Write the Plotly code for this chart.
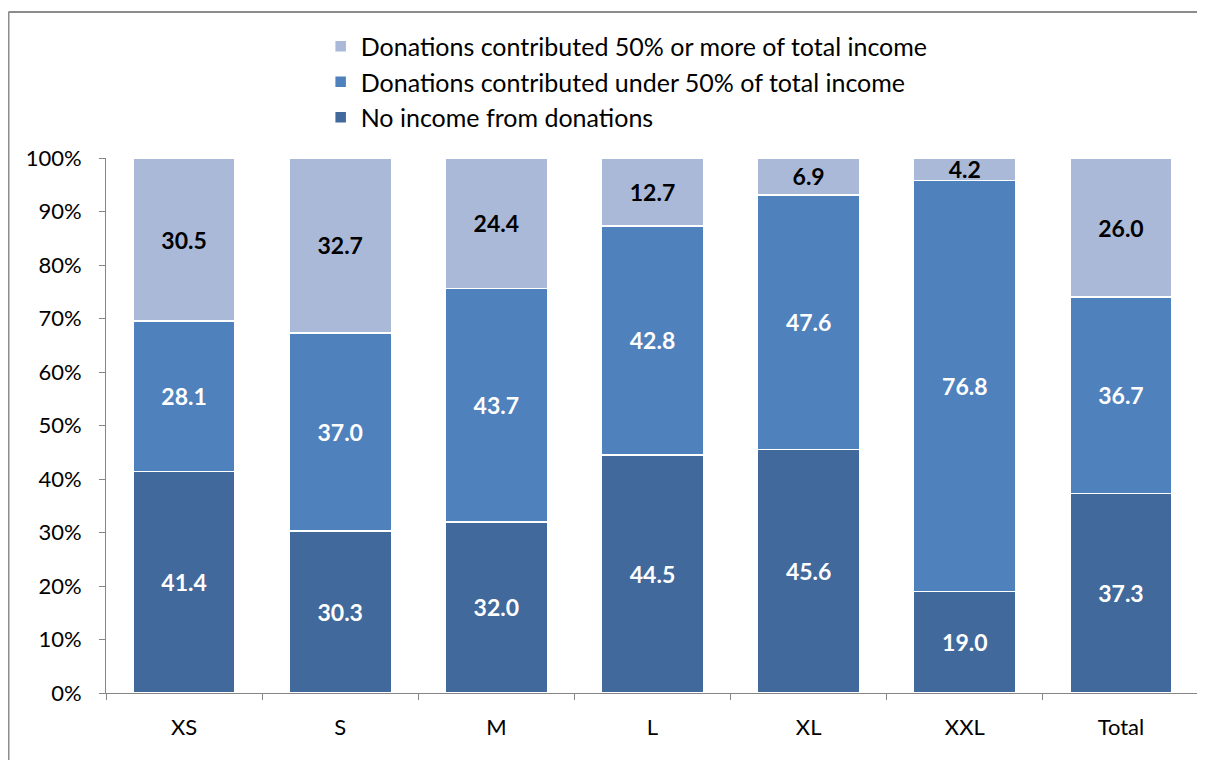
import plotly.graph_objects as go

categories = ["XS", "S", "M", "L", "XL", "XXL", "Total"]
no_income = [41.4, 30.3, 32.0, 44.5, 45.6, 19.0, 37.3]
under_50 = [28.1, 37.0, 43.7, 42.8, 47.6, 76.8, 36.7]
over_50 = [30.5, 32.7, 24.4, 12.7, 6.9, 4.2, 26.0]

series = [
    ("No income from donations", no_income, "#41699B", "white"),
    ("Donations contributed under 50% of total income", under_50, "#4F81BD", "white"),
    ("Donations contributed 50% or more of total income", over_50, "#AAB9D8", "black"),
]

FONT = "Lato"
fig = go.Figure()
for i, (name, vals, color, tcolor) in enumerate(series):
    fig.add_trace(go.Bar(
        x=categories, y=vals, name=name, legendgroup=f"g{i}",
        marker=dict(color=color, line=dict(color="white", width=1.5)),
        text=[f"{v:.1f}" for v in vals],
        texttemplate="%{text}",
        textposition="inside",
        insidetextanchor="middle",
        constraintext="none",
        textfont=dict(family=FONT, size=23, color=tcolor, weight="bold"),
    ))

# page has an 8px body margin; figure sized/offset to compensate
fig.update_layout(
    barmode="stack",
    barnorm="percent",
    bargap=0.345,
    width=1197, height=752,
    margin=dict(l=98, r=6, t=150, b=67),
    plot_bgcolor="white", paper_bgcolor="white",
    font=dict(family=FONT, size=22, color="black"),
    legend=dict(
        orientation="v", traceorder="reversed",
        x=0.1964, xanchor="left", y=1.2512, yanchor="top",
        font=dict(family=FONT, size=25, color="black"),
        itemwidth=30, tracegroupgap=7.5,
        bgcolor="rgba(0,0,0,0)",
    ),
    showlegend=True,
)
fig.update_yaxes(
    range=[0, 100], dtick=10, ticksuffix="%",
    showgrid=False, showline=True, linecolor="#868686", linewidth=1,
    ticks="outside", ticklen=6, tickcolor="#868686",
    tickfont=dict(family=FONT, size=22), zeroline=False,
    ticklabelstandoff=13,
)
fig.update_xaxes(
    showgrid=False, showline=True, linecolor="#868686", linewidth=1,
    ticks="outside", ticklen=6, tickcolor="#868686", tickson="boundaries",
    tickfont=dict(family=FONT, size=22), ticklabelstandoff=15,
)
# outer chart border (top and left edges visible)
fig.add_shape(type="line", xref="paper", yref="paper", x0=-0.0892, x1=1.0055, y0=1.2729, y1=1.2729,
              line=dict(color="#8C8C8C", width=2))
fig.add_shape(type="line", xref="paper", yref="paper", x0=-0.0892, x1=-0.0892, y0=-0.2, y1=1.2729,
              line=dict(color="#8C8C8C", width=2))

fig.write_html("out.html")
